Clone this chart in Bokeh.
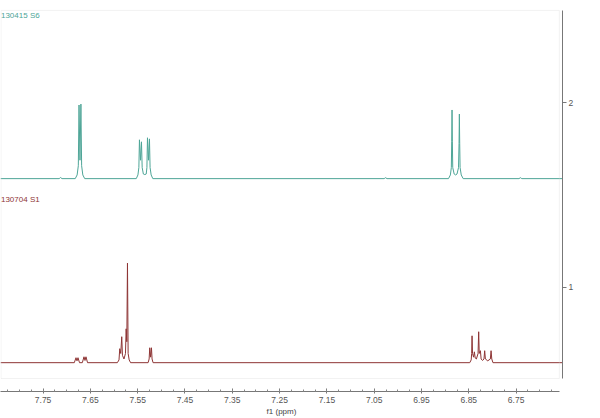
import numpy as np
from bokeh.plotting import figure
from bokeh.models import Range1d, FixedTicker, PrintfTickFormatter, BoxAnnotation, Label
from bokeh.embed import file_html
from bokeh.resources import INLINE

# ---- data ----
spectrum_names = ["130415 S6", "130704 S1"]
spectrum_index = [2, 1]

# spectrum "130415 S6" (chemical shift, ppm / intensity)
s6_ppm = [7.840, 7.716, 7.713, 7.710, 7.682, 7.678, 7.6755, 7.674, 7.672, 7.670, 7.6685, 7.666, 7.662,
          7.553, 7.5495, 7.5475, 7.5463, 7.544, 7.542, 7.5405, 7.538, 7.535, 7.532, 7.5305,
          7.5293, 7.527, 7.5251, 7.5238, 7.5215, 7.518,
          7.029, 7.026, 7.023,
          6.893, 6.889, 6.887, 6.8862, 6.8855, 6.8848, 6.884, 6.881, 6.878, 6.875, 6.8718,
          6.8707, 6.870, 6.8693, 6.8685, 6.866, 6.862,
          6.744, 6.741, 6.738, 6.652]
s6_int = [0, 0, 0.006, 0, 0, 0.02, 0.07, 0.40, 0.10, 0.405, 0.07, 0.02, 0,
          0, 0.02, 0.06, 0.211, 0.10, 0.200, 0.06, 0.025, 0.022, 0.025, 0.06,
          0.222, 0.10, 0.216, 0.06, 0.02, 0,
          0, 0.005, 0,
          0, 0.02, 0.06, 0.2, 0.373, 0.2, 0.06, 0.025, 0.02, 0.025, 0.06,
          0.19, 0.351, 0.19, 0.06, 0.02, 0,
          0, 0.005, 0, 0]

# spectrum "130704 S1"
s1_ppm = [7.840, 7.684, 7.6804, 7.6783, 7.6762, 7.673, 7.667, 7.6635, 7.6614, 7.6593, 7.656,
          7.593, 7.5895, 7.5879, 7.5858, 7.5837, 7.5822, 7.579, 7.5758, 7.5744, 7.573, 7.5716,
          7.5702, 7.568, 7.565,
          7.528, 7.5258, 7.5245, 7.5227, 7.5209, 7.5196, 7.5175,
          6.848, 6.845, 6.8440, 6.8432, 6.8422, 6.8400, 6.8383, 6.8365, 6.8340, 6.8305, 6.8292,
          6.8280, 6.8256, 6.8240, 6.8210, 6.8180, 6.8165, 6.8150, 6.8100, 6.8045, 6.8030,
          6.8015, 6.7990,
          6.652]
s1_int = [0, 0, 0.027, 0.01, 0.027, 0, 0, 0.032, 0.012, 0.032, 0,
          0, 0.015, 0.076, 0.05, 0.141, 0.04, 0.02, 0.05, 0.184, 0.114, 0.541,
          0.05, 0.015, 0,
          0, 0.02, 0.081, 0.03, 0.081, 0.02, 0,
          0, 0.015, 0.05, 0.146, 0.05, 0.03, 0.059, 0.025, 0.02, 0.05, 0.168,
          0.05, 0.065, 0.02, 0.012, 0.02, 0.065, 0.02, 0.01, 0.02, 0.065,
          0.02, 0,
          0]

x_ticks = [7.75, 7.65, 7.55, 7.45, 7.35, 7.25, 7.15, 7.05, 6.95, 6.85, 6.75]
y_ticks = [1, 2]

# ---- styling / layout ----
BASE_SHIFT = 0.411
COLORS = ["#4ea597", "#8e3535"]
FONT = "Liberation Sans"

p = figure(width=600, height=418,
           x_range=Range1d(7.840, 6.652), y_range=Range1d(0.4324, 2.5297),
           y_axis_location="right", output_backend="svg", toolbar_location=None,
           min_border_left=0, min_border_right=38, min_border_top=5, min_border_bottom=25)
p.outline_line_color = None
p.grid.visible = False
p.background_fill_color = "white"
p.border_fill_color = "white"

box = BoxAnnotation(left=7.839, right=6.6587, top=2.503, bottom=0.503,
                    fill_alpha=0, line_color="#d4d4d4", line_width=1)
p.add_layout(box)

for ppm, inten, idx, name, col in [(s6_ppm, s6_int, spectrum_index[0], spectrum_names[0], COLORS[0]),
                                    (s1_ppm, s1_int, spectrum_index[1], spectrum_names[1], COLORS[1])]:
    base = idx - BASE_SHIFT
    p.line(ppm, [base + v for v in inten], line_color=col, line_width=1)
    p.add_layout(Label(x=7.839, y=idx + 0.4757, text=name, text_color=col,
                       text_font=FONT, text_font_size="8px", text_baseline="middle",
                       text_align="left"))

xa = p.xaxis[0]
xa.ticker = FixedTicker(ticks=x_ticks,
                        minor_ticks=np.round(np.arange(6.675, 7.84, 0.025), 3).tolist())
xa.formatter = PrintfTickFormatter(format="%.2f")
xa.bounds = (6.659, 7.84)
xa.axis_label = "f1 (ppm)"
xa.axis_label_text_font = FONT
xa.axis_label_text_font_size = "8px"
xa.axis_label_text_font_style = "normal"
xa.axis_label_text_color = "#444"
xa.axis_label_standoff = 1
xa.major_label_text_font = FONT
xa.major_label_text_font_size = "8.5px"
xa.major_label_text_color = "#555"
xa.major_label_standoff = 3
xa.axis_line_color = "#777"
xa.major_tick_line_color = "#777"
xa.minor_tick_line_color = "#888"
xa.major_tick_in = 3
xa.major_tick_out = 2
xa.minor_tick_in = 2
xa.minor_tick_out = 0

ya = p.yaxis[0]
ya.ticker = FixedTicker(ticks=y_ticks, minor_ticks=[])
ya.bounds = (0.503, 2.503)
ya.axis_line_color = "#777"
ya.major_tick_line_color = "#777"
ya.major_tick_in = 0
ya.major_tick_out = 4
ya.major_label_standoff = 2
ya.major_label_text_font = FONT
ya.major_label_text_font_size = "8.5px"
ya.major_label_text_color = "#555"

open("out.html", "w").write(file_html(p, INLINE))
